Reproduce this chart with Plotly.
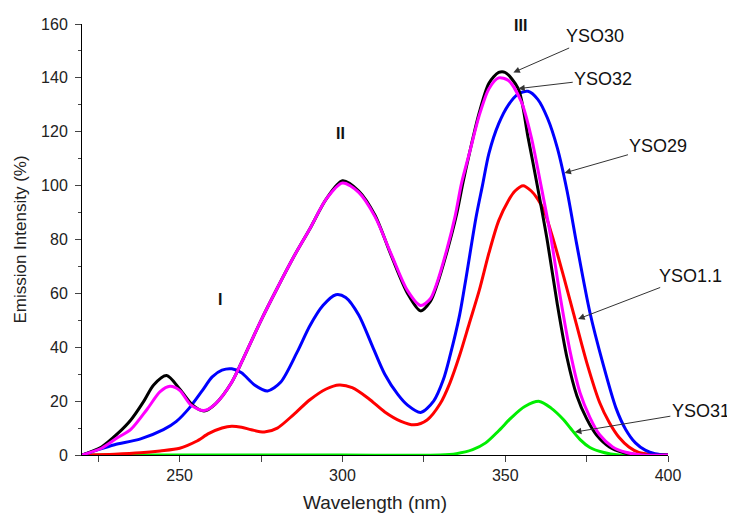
import plotly.graph_objects as go

# Emission spectra (wavelength in nm, intensity in %)
wl_yso30 = [220, 226, 231, 235, 239, 242, 246, 250, 254, 257.5, 261, 266, 270, 275, 280, 285, 290,
            295, 300, 305, 310, 315, 320, 324, 327, 329, 332, 335, 337, 339, 342, 345, 348, 350, 354,
            357, 360, 363, 366, 369, 372, 375, 378, 382, 386, 391, 400]
int_yso30 = [0, 3, 8, 13, 20, 26, 29.5, 24.5, 18.5, 16.3, 19, 27, 37, 50, 62, 73.5, 84,
             95, 101.8, 98, 89, 74, 60, 53.5, 57, 63, 75, 89, 101, 112, 127, 138, 142, 142, 136,
             118, 99, 79, 56, 36, 22, 13.5, 7.5, 3, 1, 0, 0]

wl_yso32 = [220, 226, 231, 235, 240, 244, 247, 250, 253.5, 257.5, 261, 266, 270, 275, 280, 285, 290,
            295, 300, 305, 310, 315, 320, 324, 327, 329, 332, 334.6, 336.6, 339.2, 342, 345, 348, 351,
            355, 358, 361, 364, 367, 370, 373, 376, 379, 383, 387, 392, 400]
int_yso32 = [0, 2.5, 6.5, 9.5, 17, 23.5, 25.5, 24, 18.5, 16.5, 19, 27, 37, 50, 62, 73.5, 84,
             95, 101, 97.5, 88.5, 74.5, 61, 55.5, 58, 63.8, 76, 88.6, 101, 113, 126, 136, 140, 139,
             131, 118, 100, 81, 58, 38, 23, 14, 7.5, 3, 1, 0, 0]

wl_yso29 = [220, 225, 230, 238, 245, 249, 253, 257, 260, 263, 266, 269, 273, 277, 281, 286, 290,
            294, 298, 301, 305, 309, 313, 317, 320, 324, 328, 331, 333, 336, 338, 341, 343, 345, 348,
            351, 354, 357, 360, 363, 366, 369, 372, 376, 380, 384, 387, 390, 393, 396, 400]
int_yso29 = [0, 2, 3.8, 6, 9.4, 12.5, 17.5, 24, 29, 31.5, 32, 30.5, 26, 23.8, 27, 38, 48,
             55.5, 59.5, 58.5, 52, 41, 30, 22.5, 18.5, 15.8, 20, 28, 36.6, 52, 66, 88, 100, 112, 123,
             130, 134, 135, 132, 125, 114, 98, 78, 53, 34, 17.5, 9.5, 4.5, 1.8, 0.5, 0]

wl_yso11 = [220, 230, 238, 244, 250, 255, 259, 263, 266, 269, 272, 276, 280, 285, 290, 295, 299, 303, 308,
            313, 318, 322, 326, 330, 333, 336, 339, 342, 345, 348, 351, 353, 355.5, 358, 360, 362,
            365, 368, 371, 375, 379, 382, 385, 388, 391, 395, 400]
int_yso11 = [0, 0.3, 0.8, 1.5, 2.5, 5, 8, 10, 10.7, 10.3, 9.4, 8.5, 10, 15, 20.5, 24.5, 26, 25, 21,
             16, 12.5, 11.2, 13, 19, 26.7, 37, 49, 61, 75, 87, 94.5, 98, 100, 98, 95, 90.5,
             79, 66, 52.5, 34.5, 19.5, 12, 6.5, 3, 1, 0.2, 0]

wl_yso31 = [220, 260, 300, 330, 335, 340, 344, 348, 352, 356, 360.5, 364, 368, 370, 373, 376, 380, 385, 400]
int_yso31 = [0, 0, 0, 0, 0.5, 2, 4.5, 9, 14, 18, 19.9, 17.5, 13, 10, 5.7, 2.8, 1, 0, 0]

fig = go.Figure()

series = [
    (wl_yso31, int_yso31, '#00ee00'),
    (wl_yso11, int_yso11, '#ff0000'),
    (wl_yso29, int_yso29, '#0000ff'),
    (wl_yso30, int_yso30, '#000000'),
    (wl_yso32, int_yso32, '#ff00ff'),
]
for xs, ys, col in series:
    fig.add_trace(go.Scatter(x=xs, y=ys, mode='lines',
                             line=dict(color=col, width=3, shape='spline', smoothing=0.8),
                             showlegend=False, hoverinfo='skip'))

# curve labels with arrows
labels = [
    ('YSO30', 352.5, 142, 82, -36),
    ('YSO32', 354, 136, 85, -10),
    ('YSO29', 368.2, 104.7, 94, -27),
    ('YSO1.1', 372.4, 50.5, 112, -43),
    ('YSO31', 371.4, 8.5, 126, -21),
]
for txt, x, y, ax, ay in labels:
    fig.add_annotation(x=x, y=y, ax=ax, ay=ay, text=txt, showarrow=True,
                       arrowhead=2, arrowsize=1.3, arrowwidth=1, arrowcolor='#333',
                       font=dict(size=18, color='#111'))

# band labels
for txt, x, y in [('I', 262.5, 57.6), ('II', 299.3, 119.5), ('III', 354.8, 159.4)]:
    fig.add_annotation(x=x, y=y, text='<b>%s</b>' % txt, showarrow=False,
                       font=dict(size=16, color='#111'))

# page body adds 8px margin, so the figure is sized to fit inside the window
fig.update_layout(
    width=727, height=516,
    margin=dict(l=74, r=67, t=16, b=69, autoexpand=False),
    plot_bgcolor='white', paper_bgcolor='white',
    font=dict(family='Liberation Sans, Arial, sans-serif', size=16, color='#222'),
)
fig.update_xaxes(range=[220, 400], tick0=250, dtick=50, ticks='outside', ticklen=6,
                 minor=dict(dtick=25, tick0=225, ticks='outside', ticklen=6),
                 showline=True, linecolor='black', linewidth=1, showgrid=False, zeroline=False,
                 automargin=False,
                 title=dict(text='Wavelength (nm)', font=dict(size=19), standoff=12))
fig.update_yaxes(range=[0, 160], dtick=20, ticks='outside', ticklen=6, ticklabelstandoff=4,
                 minor=dict(dtick=10, ticks='outside', ticklen=3),
                 showline=True, linecolor='black', linewidth=1, showgrid=False, zeroline=False,
                 automargin=False,
                 title=dict(text='Emission Intensity (%)', font=dict(size=17), standoff=10))

fig.write_html('out.html')
